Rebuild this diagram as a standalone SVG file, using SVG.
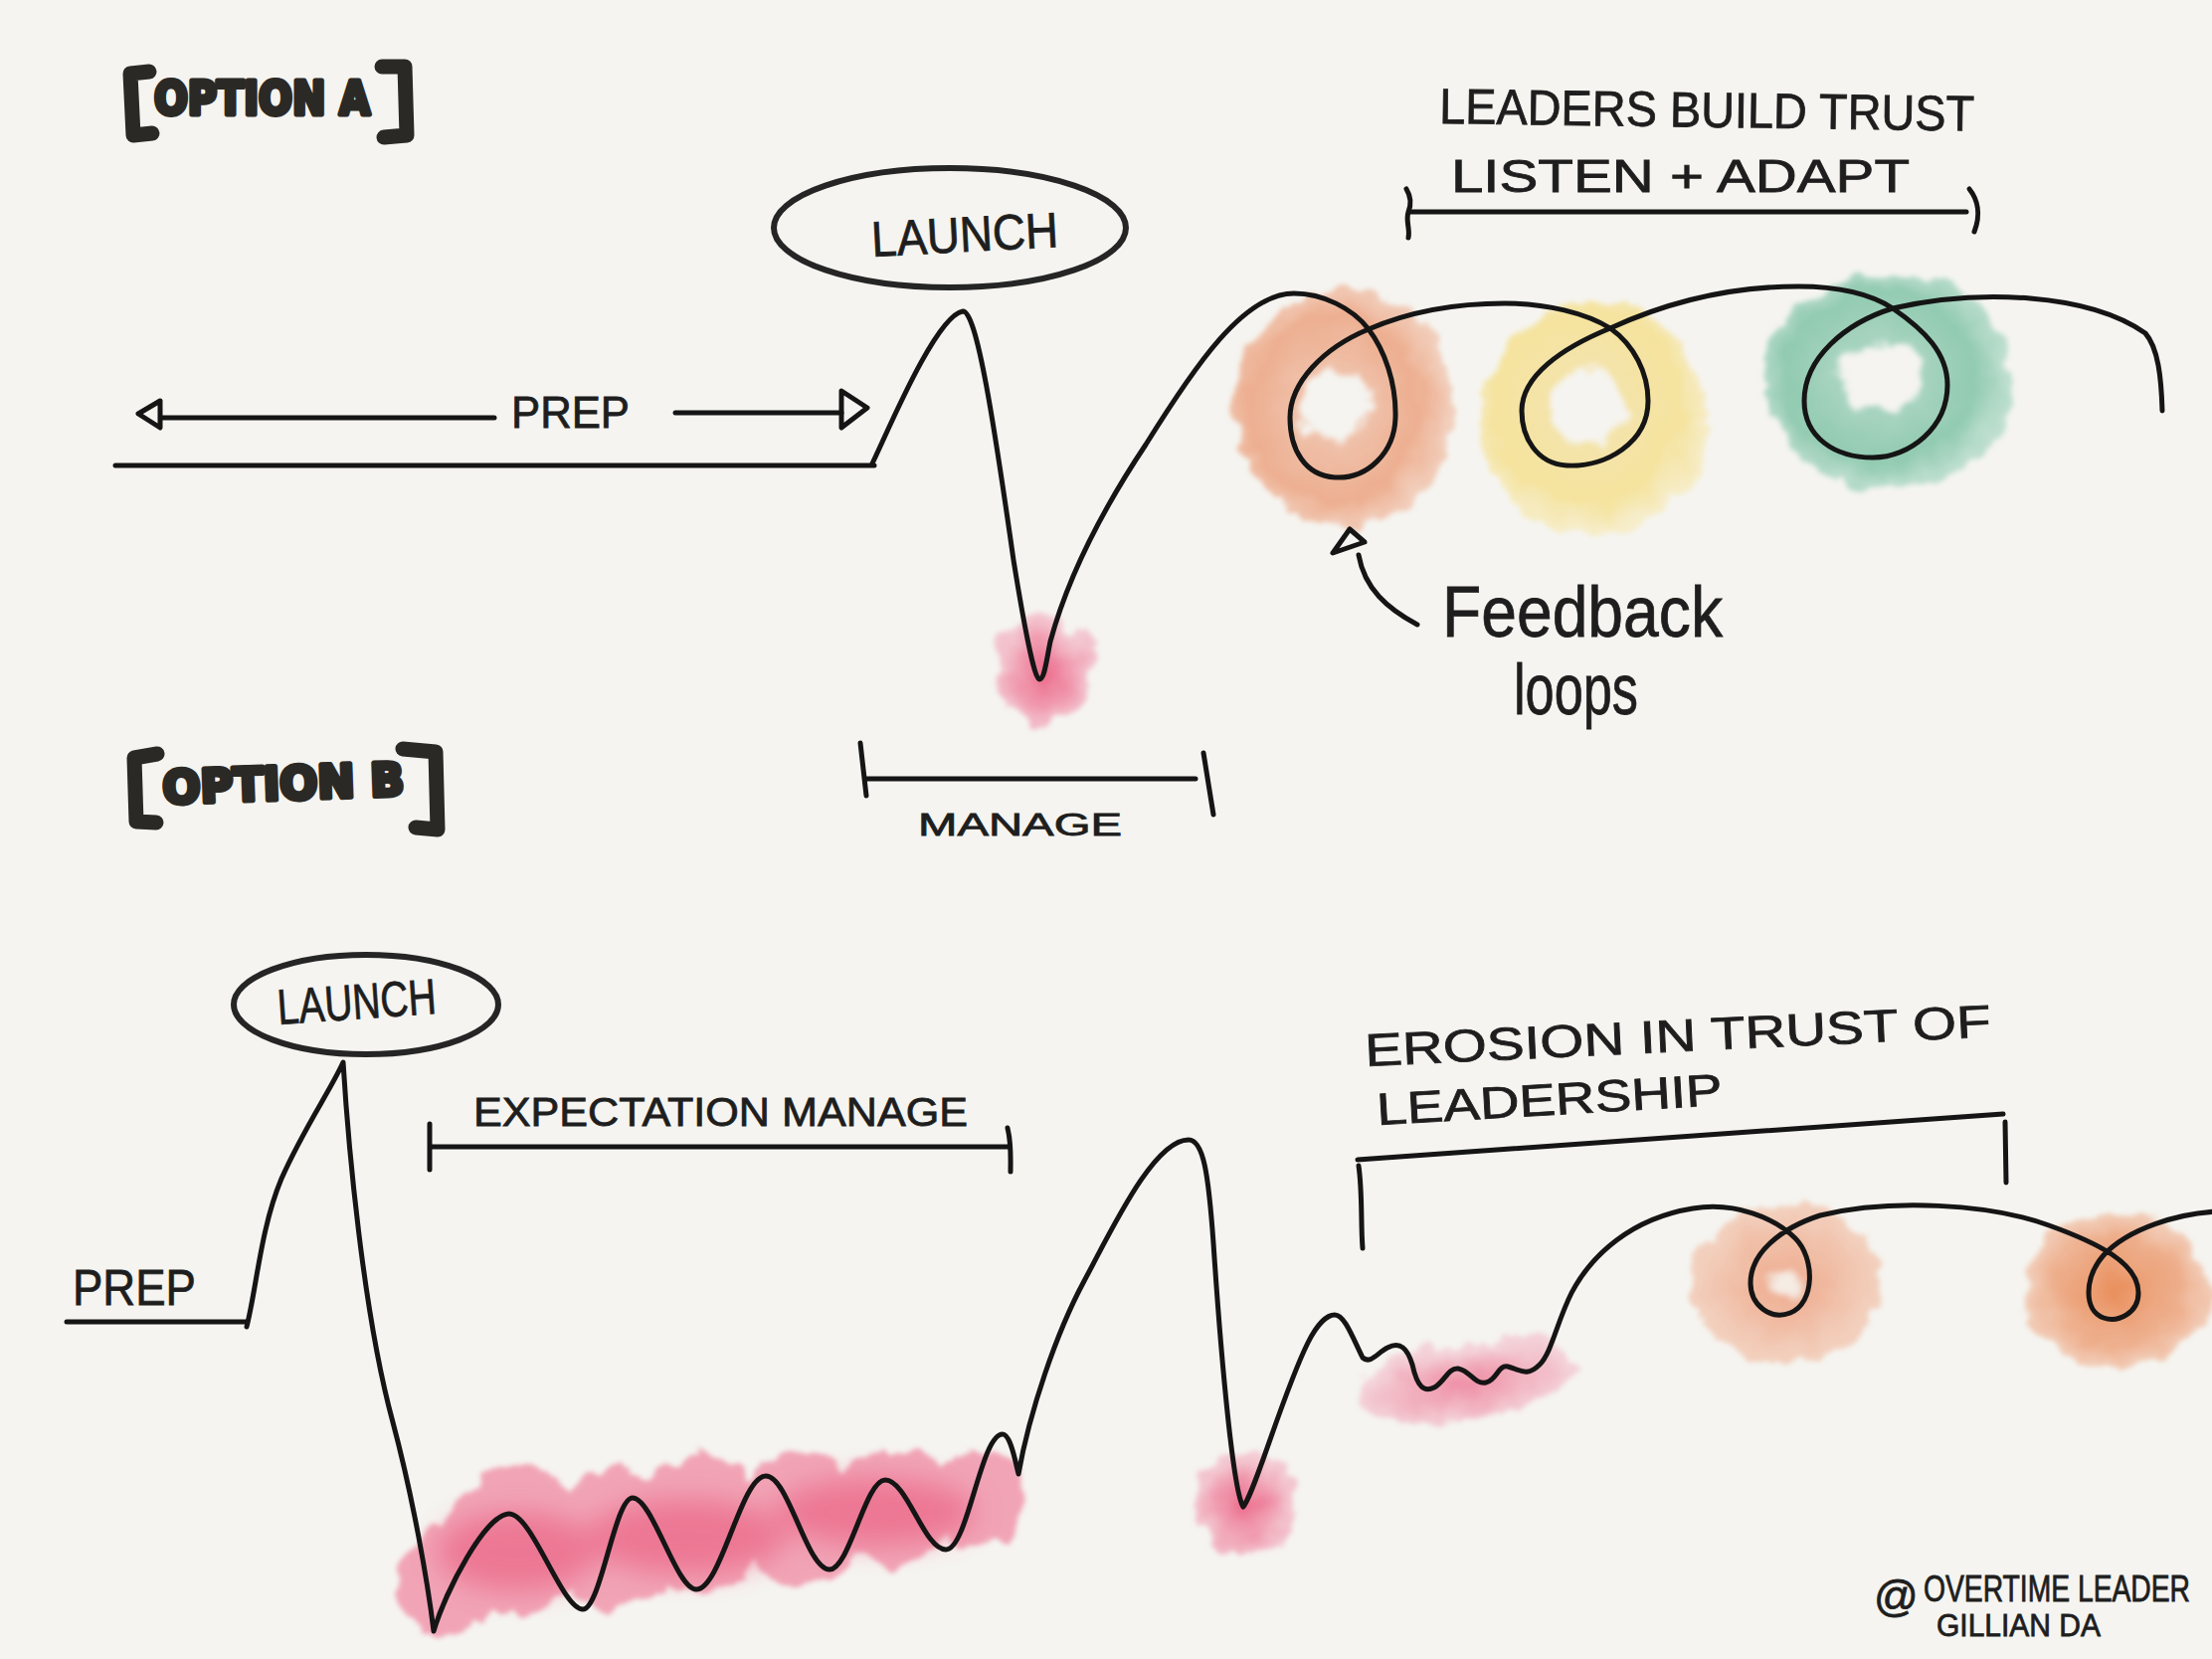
<svg xmlns="http://www.w3.org/2000/svg" width="2224" height="1668" viewBox="0 0 2224 1668">
<style>
.h { font-family: "Liberation Sans", "DejaVu Sans", sans-serif; fill: #1e1e1e; stroke: #1e1e1e; stroke-width: 0.8; }
.b { font-family: "DejaVu Sans", "Liberation Sans", sans-serif; font-weight: bold; fill: #2b2925; stroke: #2b2925; stroke-width: 5; stroke-linejoin: round; }
.ln { fill: none; stroke: #151515; stroke-width: 5; stroke-linecap: round; stroke-linejoin: round; }
.br { fill: none; stroke: #2b2925; stroke-width: 15; stroke-linecap: round; stroke-linejoin: round; }
.el { fill: none; stroke: #252525; stroke-width: 6; }
</style>
<defs>
<filter id="rough" x="-30%" y="-30%" width="160%" height="160%">
<feTurbulence type="fractalNoise" baseFrequency="0.035" numOctaves="3" seed="4" result="n"/>
<feDisplacementMap in="SourceGraphic" in2="n" scale="26" xChannelSelector="R" yChannelSelector="G" result="d"/>
<feGaussianBlur in="d" stdDeviation="2.5"/>
</filter>
<filter id="soft" x="-30%" y="-30%" width="160%" height="160%">
<feGaussianBlur stdDeviation="14"/>
</filter>
<radialGradient id="gPink" cx="0.5" cy="0.55" r="0.55">
<stop offset="0" stop-color="#ec6587" stop-opacity="0.95"/>
<stop offset="0.55" stop-color="#ef86a0" stop-opacity="0.75"/>
<stop offset="1" stop-color="#f3b3c3" stop-opacity="0.55"/>
</radialGradient>
<radialGradient id="gOr" cx="0.45" cy="0.5" r="0.55">
<stop offset="0.26" stop-color="#eca482" stop-opacity="0"/>
<stop offset="0.3" stop-color="#eca482" stop-opacity="0.65"/>
<stop offset="0.7" stop-color="#eb9d78" stop-opacity="0.8"/>
<stop offset="1" stop-color="#f1bca2" stop-opacity="0.6"/>
</radialGradient>
<radialGradient id="gYe" cx="0.47" cy="0.45" r="0.55">
<stop offset="0.27" stop-color="#f4dd8c" stop-opacity="0"/>
<stop offset="0.31" stop-color="#f4dd8c" stop-opacity="0.7"/>
<stop offset="0.75" stop-color="#f5e08f" stop-opacity="0.85"/>
<stop offset="1" stop-color="#f7e9b3" stop-opacity="0.6"/>
</radialGradient>
<radialGradient id="gGr" cx="0.47" cy="0.48" r="0.55">
<stop offset="0.27" stop-color="#86c6aa" stop-opacity="0"/>
<stop offset="0.31" stop-color="#86c6aa" stop-opacity="0.7"/>
<stop offset="0.7" stop-color="#80c3a6" stop-opacity="0.85"/>
<stop offset="1" stop-color="#aad8c3" stop-opacity="0.6"/>
</radialGradient>
<radialGradient id="gOr2" cx="0.5" cy="0.5" r="0.55">
<stop offset="0.12" stop-color="#f5e6dc" stop-opacity="0.6"/>
<stop offset="0.22" stop-color="#eda180" stop-opacity="0.8"/>
<stop offset="1" stop-color="#f2c0a6" stop-opacity="0.6"/>
</radialGradient>
<radialGradient id="gOr3" cx="0.5" cy="0.5" r="0.55">
<stop offset="0" stop-color="#e98a55" stop-opacity="0.95"/>
<stop offset="0.6" stop-color="#ec9e74" stop-opacity="0.8"/>
<stop offset="1" stop-color="#f2c0a6" stop-opacity="0.6"/>
</radialGradient>
</defs>
<rect x="0" y="0" width="2224" height="1668" fill="#f5f4f0"/>

<g id="blobs">
<ellipse cx="1352" cy="410" rx="110" ry="120" fill="url(#gOr)" filter="url(#rough)"/>
<ellipse cx="1603" cy="420" rx="114" ry="117" fill="url(#gYe)" filter="url(#rough)"/>
<ellipse cx="1898" cy="383" rx="125" ry="110" fill="url(#gGr)" filter="url(#rough)"/>
<ellipse cx="1050" cy="672" rx="50" ry="55" fill="url(#gPink)" filter="url(#rough)"/>
<g filter="url(#rough)" opacity="0.75">
<g fill="#f08aa3">
<ellipse cx="450" cy="1590" rx="52" ry="55"/>
<ellipse cx="520" cy="1548" rx="72" ry="75"/>
<ellipse cx="620" cy="1548" rx="62" ry="70"/>
<ellipse cx="705" cy="1532" rx="66" ry="70"/>
<ellipse cx="805" cy="1527" rx="66" ry="66"/>
<ellipse cx="895" cy="1515" rx="62" ry="58"/>
<ellipse cx="980" cy="1505" rx="50" ry="48"/>
</g>
</g>
<g filter="url(#soft)" opacity="0.6" fill="#ea5a7e">
<ellipse cx="520" cy="1560" rx="80" ry="40"/>
<ellipse cx="690" cy="1545" rx="100" ry="38"/>
<ellipse cx="880" cy="1520" rx="100" ry="34"/>
</g>
<ellipse cx="1252" cy="1510" rx="52" ry="52" fill="url(#gPink)" filter="url(#rough)"/>
<ellipse cx="1472" cy="1388" rx="112" ry="40" transform="rotate(-8 1472 1388)" fill="url(#gPink)" opacity="0.75" filter="url(#rough)"/>
<ellipse cx="1796" cy="1291" rx="95" ry="80" fill="url(#gOr2)" filter="url(#rough)"/>
<ellipse cx="2128" cy="1297" rx="95" ry="78" fill="url(#gOr3)" filter="url(#rough)"/>
</g>

<g id="connectors">
<path class="ln" d="M 877,466 C 890,440 940,318 968,313 C 982,311 1000,430 1019,563 C 1029,625 1040,684 1045,683 C 1050,683 1052,665 1056,645 C 1075,575 1110,510 1152,447 C 1200,370 1250,295 1301,295 C 1330,295 1360,310 1376,331 C 1392,352 1404,385 1403,420 C 1402,455 1375,482 1342,480 C 1312,478 1297,452 1297,420 C 1297,385 1330,350 1376,331 C 1420,312 1470,305 1513,305 C 1555,305 1595,315 1619,330 C 1643,347 1657,375 1657,403 C 1657,445 1615,470 1575,468 C 1545,466 1530,440 1530,413 C 1530,378 1570,350 1619,330 C 1680,302 1740,288 1808,288 C 1850,288 1880,295 1903,310 C 1935,332 1958,355 1958,387 C 1958,430 1920,460 1883,460 C 1845,460 1814,440 1814,403 C 1814,360 1855,325 1903,310 C 1990,290 2100,295 2157,335 C 2170,350 2173,380 2174,413"/>
<path class="ln" stroke-width="6" d="M 116,468 L 879,468"/>
<path class="ln" stroke-width="6" d="M 163,420 L 497,420"/>
<path class="ln" stroke-width="5" d="M 161,403 L 139,416 L 161,430 Z"/>
<path class="ln" stroke-width="6" d="M 679,415 L 846,415"/>
<path class="ln" stroke-width="5" d="M 846,393 L 872,410 L 846,430 Z"/>
<path class="ln" stroke="#3b4343" stroke-width="6" d="M 1418,213 L 1977,213"/>
<path class="ln" stroke="#3b4343" stroke-width="5" d="M 1414,190 C 1420,200 1418,208 1416,213 C 1413,222 1418,230 1416,239"/>
<path class="ln" stroke="#3b4343" stroke-width="5" d="M 1980,190 C 1988,200 1992,215 1985,233"/>
<path class="ln" stroke-width="6" d="M 865,747 L 871,800 M 871,783 L 1202,783 M 1210,757 L 1220,819"/>
<path class="ln" stroke-width="4" d="M 1425,628 C 1395,612 1372,592 1366,558"/>
<path class="ln" stroke-width="4" d="M 1357,532 L 1340,556 L 1372,545 Z"/>

<path class="ln" stroke-width="6" d="M 67,1329 L 248,1329"/>
<path class="ln" d="M 248,1334 C 258,1295 262,1235 283,1185 C 305,1135 333,1095 345,1068 C 350,1150 365,1320 395,1430 C 415,1505 430,1590 436,1640 C 448,1600 488,1522 512,1522 C 535,1522 565,1618 586,1618 C 604,1618 618,1506 636,1506 C 656,1506 680,1598 700,1598 C 725,1598 745,1484 770,1484 C 793,1484 811,1578 834,1578 C 854,1578 870,1488 890,1488 C 912,1488 929,1558 951,1558 C 973,1558 986,1442 1008,1442 C 1016,1442 1021,1470 1024,1482 C 1035,1420 1062,1340 1090,1288 C 1118,1236 1160,1146 1195,1146 C 1210,1146 1215,1180 1220,1250 C 1228,1370 1240,1500 1250,1515 C 1262,1500 1290,1400 1315,1350 C 1325,1330 1335,1322 1342,1322 C 1352,1322 1360,1345 1370,1365 C 1378,1372 1385,1360 1395,1355 C 1408,1348 1415,1356 1420,1372 C 1425,1395 1432,1400 1442,1395 C 1452,1390 1456,1375 1466,1376 C 1478,1378 1482,1392 1494,1390 C 1505,1388 1506,1372 1516,1374 C 1528,1377 1535,1385 1548,1372 C 1560,1360 1565,1330 1580,1300 C 1600,1262 1640,1225 1702,1215 C 1745,1208 1785,1225 1805,1245 C 1825,1265 1825,1310 1800,1320 C 1780,1328 1760,1312 1760,1290 C 1760,1260 1790,1235 1830,1222 C 1900,1205 2000,1210 2060,1232 C 2110,1250 2150,1270 2150,1300 C 2150,1320 2130,1330 2115,1325 C 2095,1318 2095,1285 2115,1262 C 2140,1235 2190,1220 2230,1218"/>
<path class="ln" stroke-width="6" d="M 432,1130 L 432,1176 M 432,1153 L 1014,1153 M 1013,1134 C 1017,1150 1016,1165 1016,1178"/>
<path class="ln" stroke-width="6" d="M 1365,1166 L 2014,1120 M 1366,1172 C 1370,1200 1368,1230 1370,1255 M 2016,1128 L 2017,1189"/>
</g>

<g id="option-a">
<path class="br" d="M 150,72 L 131,74 L 134,136 L 153,134"/>
<path class="br" d="M 384,67 L 407,67 L 409,136 L 386,138"/>
<text class="b" x="155" y="115" font-size="46" textLength="217" lengthAdjust="spacingAndGlyphs">OPTION A</text>
</g>
<g id="option-b">
<path class="br" d="M 158,758 L 135,762 L 137,826 L 157,827"/>
<path class="br" d="M 405,753 L 438,756 L 440,834 L 418,832"/>
<text class="b" x="164" y="808" font-size="46" textLength="243" lengthAdjust="spacingAndGlyphs" transform="rotate(-2 164 808)">OPTION B</text>
</g>
<g id="launch-a">
<ellipse class="el" cx="955" cy="229" rx="177" ry="60"/>
<text class="h" x="877" y="258" font-size="50" textLength="188" lengthAdjust="spacingAndGlyphs" transform="rotate(-3 877 258)">LAUNCH</text>
</g>
<g id="prep-a">
<text class="h" x="514" y="430" font-size="44" textLength="119" lengthAdjust="spacingAndGlyphs">PREP</text>
</g>
<g id="leaders">
<text class="h" x="1447" y="124" font-size="50" textLength="538" lengthAdjust="spacingAndGlyphs" transform="rotate(0.8 1447 124)">LEADERS BUILD TRUST</text>
<text class="h" x="1459" y="193" font-size="46" textLength="461" lengthAdjust="spacingAndGlyphs">LISTEN + ADAPT</text>
</g>
<g id="feedback">
<text class="h" x="1450" y="640" font-size="72" textLength="282" lengthAdjust="spacingAndGlyphs">Feedback</text>
<text class="h" x="1522" y="718" font-size="72" textLength="125" lengthAdjust="spacingAndGlyphs">loops</text>
</g>
<g id="manage">
<text class="h" x="923" y="840" font-size="32" textLength="205" lengthAdjust="spacingAndGlyphs" stroke-width="1.5">MANAGE</text>
</g>
<g id="launch-b">
<ellipse class="el" cx="368" cy="1010" rx="133" ry="50"/>
<text class="h" x="280" y="1030" font-size="50" textLength="160" lengthAdjust="spacingAndGlyphs" transform="rotate(-4 280 1030)">LAUNCH</text>
</g>
<g id="prep-b">
<text class="h" x="73" y="1312" font-size="50" textLength="124" lengthAdjust="spacingAndGlyphs">PREP</text>
</g>
<g id="expectation">
<text class="h" x="476" y="1132" font-size="40" textLength="497" lengthAdjust="spacingAndGlyphs">EXPECTATION MANAGE</text>
</g>
<g id="erosion">
<text class="h" x="1373" y="1072" font-size="46" textLength="630" lengthAdjust="spacingAndGlyphs" transform="rotate(-2.7 1373 1072)">EROSION IN TRUST OF</text>
<text class="h" x="1385" y="1131" font-size="45" textLength="348" lengthAdjust="spacingAndGlyphs" transform="rotate(-3.3 1385 1131)">LEADERSHIP</text>
</g>
<g id="signature">
<text class="h" x="1884" y="1620" font-size="44" stroke-width="1.5">@</text>
<text class="h" x="1934" y="1610" font-size="36" textLength="268" lengthAdjust="spacingAndGlyphs" stroke-width="1.5">OVERTIME LEADER</text>
<text class="h" x="1947" y="1645" font-size="32" textLength="165" lengthAdjust="spacingAndGlyphs" stroke-width="1.5">GILLIAN DA</text>
</g>
</svg>
